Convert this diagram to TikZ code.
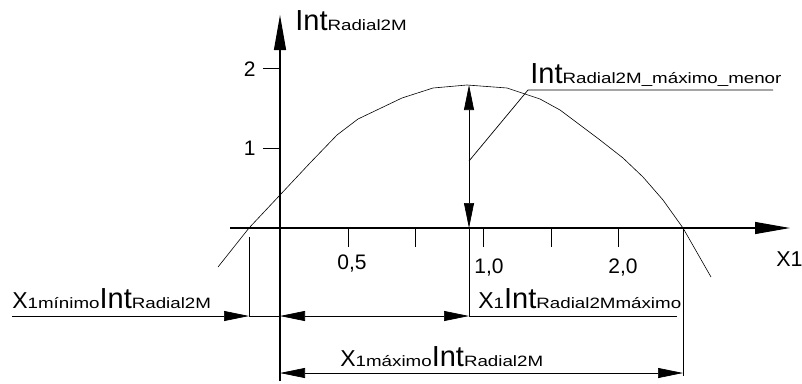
\documentclass[tikz,border=0pt]{standalone}
\usepackage{fontspec}
\setmainfont{Liberation Sans}
\newfontfamily\widefont{Liberation Sans}[FakeStretch=1.25]
\usetikzlibrary{positioning, arrows.meta}

\newcommand{\Int}{{\fontsize{29}{29}\selectfont Int}}
\newcommand{\Xbig}[1]{{\fontsize{23}{23}\selectfont #1}}
\newcommand{\lbl}[1]{{\widefont\fontsize{15}{15}\selectfont #1}}

\tikzset{
  txt/.style={anchor=base west, inner sep=0pt},
  ticklbl/.style={inner sep=0pt, font=\fontsize{21}{21}\selectfont},
  axis/.style={line width=1.1pt},
  dim/.style={line width=0.7pt},
  dimtip/.tip={Triangle[length=25pt,width=10pt]},
  axistip/.tip={Triangle[length=35pt,width=12pt]}
}

\begin{document}
\begin{tikzpicture}[x=1pt, y=-1pt, line width=0.7pt]
                \useasboundingbox (0,0) rectangle (802,383);

                % axes
                \coordinate (O) at (280,228);
                \coordinate (xstart) at (230,228);
                \coordinate (xend) at (790,228);
                \coordinate (ybot) at (280,381);
                \coordinate (ytop) at (280,15);
                \draw[axis, -axistip] (xstart) -- (xend);
                \draw[axis, -axistip] (ybot) -- (ytop);

                \node[txt] (Yname) at (295,30) {\Int\lbl{Radial2M}};
                \node[txt, font=\fontsize{21.5}{21.5}\selectfont] (Xname) at (776,266) {X1};

                % ticks
                \draw (263,68) -- (280,68);
                \draw (263,148) -- (280,148);
                \node[ticklbl, anchor=east] (two) at (256,69) {2};
                \node[ticklbl, anchor=east] (one) at (256,148) {1};
                \foreach \t in {348,415,483,551,618}
                    \draw (\t,228) -- (\t,247);
                \node[ticklbl] (half) at (352,264) {0,5};
                \node[ticklbl] (unit) at (489,268) {1,0};
                \node[ticklbl] (double) at (623,268) {2,0};

                % curve
                \draw[line width=0.6pt] plot coordinates {(218,267) (249,228) (280,195) (310,163) (337,135) (358,119)
                    (402,98) (433,88) (467,85) (507,88) (540,99) (560,110) (600,140) (623,158) (643,177)
                    (663,200) (683,228) (711,277)};

                % maximum
                \coordinate (peak) at (469,85);
                \coordinate (foot) at (469,228);
                \coordinate (footlow) at (469,316);
                \draw[dim, dimtip-dimtip] (foot) -- (peak);
                \draw[dim] (foot) -- (footlow);
                \coordinate (leadlow) at (469,161);
                \coordinate (leadknee) at (528,90);
                \coordinate (leadend) at (773,90);
                \draw[dim] (leadlow) -- (leadknee) -- (leadend);
                \node[txt] (Maxmenor) at (530,83) {\Int\lbl{Radial2M\_máximo\_menor}};

                % dimension lines
                \coordinate (xminup) at (249,237);
                \coordinate (xmin) at (249,316);
                \coordinate (dimleft) at (12,316);
                \coordinate (yaxdim) at (280,316);
                \coordinate (dimright) at (677,316);
                \draw[dim] (xminup) -- (xmin);
                \draw[dim, -dimtip] (dimleft) -- (xmin);
                \draw[dim] (xmin) -- (yaxdim);
                \draw[dim, dimtip-dimtip] (yaxdim) -- (footlow);
                \draw[dim] (footlow) -- (dimright);
                \node[txt] (Xmin) at (12,308) {\Xbig{X}\lbl{1mínimo}\Int\lbl{Radial2M}};
                \node[txt] (Xmax) at (478,308) {\Xbig{X}\lbl{1}\Int\lbl{Radial2Mmáximo}};

                \coordinate (rootup) at (683,228);
                \coordinate (rootlow) at (683,376);
                \coordinate (botleft) at (280,373);
                \coordinate (botright) at (683,373);
                \draw[dim] (rootup) -- (rootlow);
                \draw[dim, dimtip-dimtip] (botleft) -- (botright);
                \node[txt] (Xroot) at (340,366) {\Xbig{X}\lbl{1máximo}\Int\lbl{Radial2M}};

            \end{tikzpicture}
\end{document}
